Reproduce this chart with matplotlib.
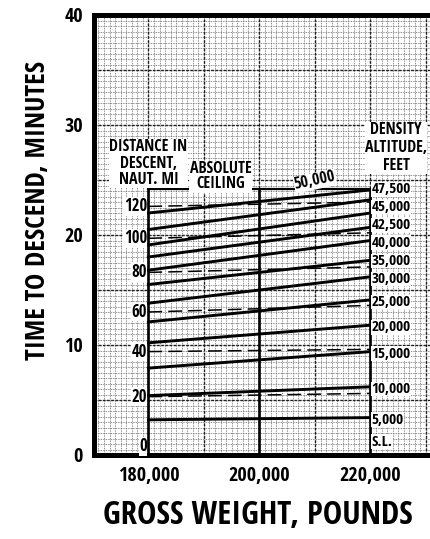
import matplotlib
matplotlib.use("Agg")
import matplotlib.pyplot as plt
from matplotlib import font_manager
import numpy as np


def pick_font():
    for fam in ["DejaVu Sans Condensed", "Liberation Sans Narrow", "Open Sans Condensed",
                "Roboto Condensed"]:
        try:
            font_manager.findfont(font_manager.FontProperties(family=fam, weight="bold"),
                                  fallback_to_default=False)
            return fam, 1.0
        except Exception:
            pass
    return "DejaVu Sans", 0.82


FAMILY, SCALE = pick_font()
FONT = [FAMILY, "DejaVu Sans"]


def fs(size):
    return size * SCALE


# Gross weights at the ends of each line (pounds)
weights = [180000, 220000]

# Density altitude lines: time to descend (minutes) at light and heavy weight
altitude_labels = ["S.L.", "5,000", "10,000", "15,000", "20,000", "25,000",
                   "30,000", "35,000", "40,000", "42,500", "45,000", "47,500"]
time_light = [0.0, 3.2, 5.4, 7.9, 10.2, 12.1, 13.8, 15.5, 16.8, 18.0, 19.1, 20.5]
time_heavy = [0.0, 3.4, 6.2, 9.4, 11.8, 14.1, 16.2, 17.7, 19.5, 20.7, 22.0, 23.2]

# Absolute ceiling line (50,000 ft)
ceiling_label = "50,000"
ceiling_light = 22.0
ceiling_heavy = 24.1

# Distance in descent (nautical miles) lines
distance_labels = ["0", "20", "40", "60", "80", "100", "120"]
distance_light = [0.0, 5.3, 9.4, 13.0, 16.6, 19.7, 22.6]
distance_heavy = [0.0, 5.6, 9.6, 13.6, 17.1, 20.2, 23.0]

# Top of the chart box
box_top = 24.2

x_ticks = [180000, 200000, 220000]
x_tick_labels = ["180,000", "200,000", "220,000"]
y_ticks = [0, 10, 20, 30, 40]

fig = plt.figure(figsize=(4.31, 5.39), dpi=100)
ax = fig.add_axes([94 / 431, 1 - 455 / 539, 1 - 94 / 431, (455 - 15) / 539])
ax.set_xlim(170200, 230900)
ax.set_ylim(0, 40)

# graph-paper grid
for x in np.arange(171000, 231000, 1000):
    ax.axvline(x, color="#6a6a6a", lw=0.6, ls=(0, (1, 1)), zorder=0)
for y in np.arange(0.5, 40, 0.5):
    ax.axhline(y, color="#6a6a6a", lw=0.6, ls=(0, (1, 1)), zorder=0)
for x in np.arange(180000, 231000, 10000):
    ax.axvline(x, color="#222222", lw=1.0, ls=(0, (2, 1)), zorder=0.5)
for y in np.arange(5, 40, 5):
    ax.axhline(y, color="#222222", lw=1.0, ls=(0, (2, 1)), zorder=0.5)

box = dict(facecolor="white", edgecolor="none", pad=0.2)

# box verticals at the three weights
for x in x_ticks:
    ax.plot([x, x], [0, box_top], color="black", lw=1.9, zorder=3)
ax.plot([weights[0], weights[1]], [box_top, box_top], color="black", lw=1.6, zorder=3)

# distance lines
for lbl, t0, t1 in zip(distance_labels, distance_light, distance_heavy):
    if t0 > 0:
        ax.plot(weights, [t0, t1], color="black", lw=1.1, ls=(0, (9, 4)), zorder=2)
    ax.text(weights[0] - 250, t0 + (0.8 if t0 == 0 else 0), lbl, ha="right", va="center",
            fontsize=fs(12), fontweight="bold", family=FONT, zorder=4, bbox=box)

# density altitude lines, labels stacked upward so they never collide
label_y = None
for lbl, t0, t1 in zip(altitude_labels, time_light, time_heavy):
    ax.plot(weights, [t0, t1], color="black", lw=2.1, zorder=3)
    if label_y is None:
        label_y = 1.2
    else:
        label_y = max(t1 - 0.2, label_y + 1.62)
    ax.text(weights[1] + 150, label_y, lbl, ha="left", va="center",
            fontsize=fs(11), fontweight="bold", family=FONT, zorder=4, bbox=box)

# absolute ceiling line
ax.plot(weights, [ceiling_light, ceiling_heavy], color="black", lw=2.1, zorder=3)
ax.text(210000, 24.9, ceiling_label, ha="center", va="center", rotation=12,
        fontsize=fs(11.5), fontweight="bold", family=FONT, zorder=4, bbox=box)

# headings
ax.text(180000, 26.5, "DISTANCE IN\nDESCENT,\nNAUT. MI", ha="center", va="center",
        fontsize=fs(11.5), fontweight="bold", family=FONT, linespacing=1.05, zorder=4, bbox=box)
ax.text(193000, 25.3, "ABSOLUTE\nCEILING", ha="center", va="center",
        fontsize=fs(11.5), fontweight="bold", family=FONT, linespacing=0.95, zorder=4, bbox=box)
ax.text(224600, 27.9, "DENSITY\nALTITUDE,\nFEET", ha="center", va="center",
        fontsize=fs(11.5), fontweight="bold", family=FONT, linespacing=1.15, zorder=4, bbox=box)

# axes styling
for side in ["left", "top", "bottom"]:
    ax.spines[side].set_linewidth(3.6)
ax.spines["right"].set_visible(False)
ax.set_xticks(x_ticks)
ax.set_xticklabels(x_tick_labels)
ax.set_yticks(y_ticks)
ax.tick_params(length=0, pad=8)
for t in ax.get_xticklabels() + ax.get_yticklabels():
    t.set_family(FONT)
    t.set_fontweight("bold")
    t.set_fontsize(fs(14.5))

ax.set_xlabel("GROSS WEIGHT, POUNDS", family=FONT, fontweight="bold",
              fontsize=fs(23.5))
ax.set_ylabel("TIME TO DESCEND, MINUTES", family=FONT, fontweight="bold",
              fontsize=fs(19.5))
ax.xaxis.set_label_coords((258 - 94) / 337, -(516 - 455) / 440)
ax.yaxis.set_label_coords(-(94 - 38) / 337, (455 - 210) / 440)
ax.xaxis.label.set_va("center")
ax.yaxis.label.set_va("center")

fig.savefig("out.png", dpi=100)
